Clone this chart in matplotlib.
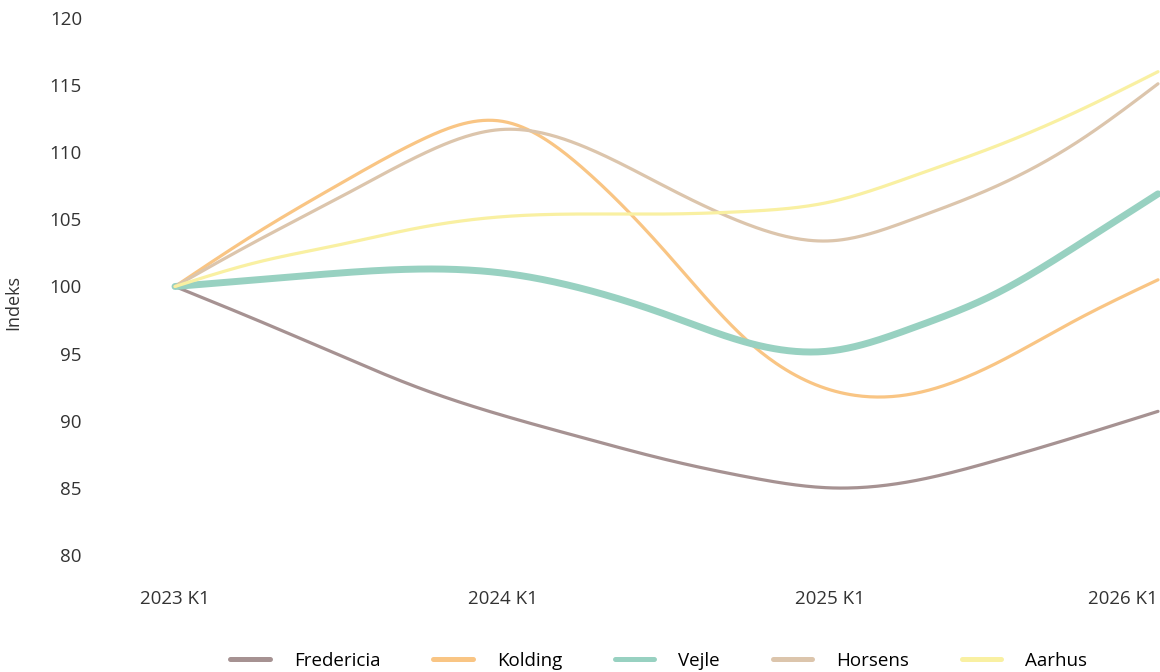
import matplotlib
matplotlib.use("Agg")
import matplotlib.pyplot as plt
import numpy as np
from matplotlib.lines import Line2D

plt.rcParams['font.family'] = ['Open Sans', 'DejaVu Sans']

# quarterly index values, 2023 K1 = 100
quarters = ['2023 K1', '2023 K2', '2023 K3', '2023 K4',
            '2024 K1', '2024 K2', '2024 K3', '2024 K4',
            '2025 K1', '2025 K2', '2025 K3', '2025 K4',
            '2026 K1']
fredericia = [100, 97.5, 94.9, 92.4, 90.4, 88.7, 87.1, 85.8, 85.0, 85.5, 87.0, 88.8, 90.7]
kolding = [100, 104.0, 107.6, 110.9, 112.3, 108.7, 102.5, 95.9, 92.3, 92.0, 94.2, 97.5, 100.5]
vejle = [100, 100.5, 101.0, 101.3, 101.0, 99.8, 97.9, 95.8, 95.2, 96.9, 99.4, 103.0, 106.9]
horsens = [100, 103.4, 106.6, 109.8, 111.7, 110.4, 107.4, 104.6, 103.4, 105.0, 107.4, 110.7, 115.1]
aarhus = [100, 101.8, 103.1, 104.4, 105.2, 105.4, 105.4, 105.6, 106.3, 108.2, 110.4, 113.0, 116.0]

series = [
    ('Fredericia', fredericia, '#a69292', 2.3),
    ('Kolding', kolding, '#f9c584', 2.3),
    ('Vejle', vejle, '#98d1c1', 5.0),
    ('Horsens', horsens, '#dcc5ac', 2.3),
    ('Aarhus', aarhus, '#f9f0a2', 2.3),
]
tick_idx = [0, 4, 8, 12]


def natural_spline(xs, ys, num=400):
    # natural cubic spline through the points, sampled densely
    xs = np.asarray(xs, float)
    ys = np.asarray(ys, float)
    n = len(xs)
    h = np.diff(xs)
    A = np.zeros((n, n))
    b = np.zeros(n)
    A[0, 0] = A[-1, -1] = 1
    for i in range(1, n - 1):
        A[i, i - 1] = h[i - 1]
        A[i, i] = 2 * (h[i - 1] + h[i])
        A[i, i + 1] = h[i]
        b[i] = 6 * ((ys[i + 1] - ys[i]) / h[i] - (ys[i] - ys[i - 1]) / h[i - 1])
    M = np.linalg.solve(A, b)
    xf = np.linspace(xs[0], xs[-1], num)
    k = np.clip(np.searchsorted(xs, xf) - 1, 0, n - 2)
    t0 = xs[k + 1] - xf
    t1 = xf - xs[k]
    hk = h[k]
    yf = (M[k] * t0 ** 3 + M[k + 1] * t1 ** 3) / (6 * hk) \
        + (ys[k] / hk - M[k] * hk / 6) * t0 + (ys[k + 1] / hk - M[k + 1] * hk / 6) * t1
    return xf, yf


fig = plt.figure(figsize=(11.6, 6.72), dpi=100)
ax = fig.add_axes([100 / 1160, 117 / 672, 1060 / 1160, 537 / 672])

xs = list(range(len(quarters)))
handles = []
for name, vals, color, lw in series:
    xf, yf = natural_spline(xs, vals)
    ax.plot(xf, yf, color=color, linewidth=lw, solid_capstyle='round',
            solid_joinstyle='round', clip_on=False)
    handles.append(Line2D([], [], color=color, linewidth=3.6,
                          solid_capstyle='round', label=name))

px = 12 / 983
ax.set_xlim(-75 * px, 12 + 2 * px)
ax.set_ylim(80, 120)
ax.set_yticks(range(80, 121, 5))
ax.set_xticks(tick_idx)
ax.set_xticklabels([quarters[i] for i in tick_idx])
ax.get_xticklabels()[-1].set_horizontalalignment('right')
ax.tick_params(axis='both', length=0, labelsize=13.5, colors='#333333')
ax.tick_params(axis='y', pad=13)
ax.tick_params(axis='x', pad=25)
for s in ax.spines.values():
    s.set_visible(False)

ax.set_ylabel('Indeks', fontsize=13, color='#333333')
ax.yaxis.set_label_coords(-78 / 1060, 0.47)

fig.legend(handles=handles, loc='lower center', ncol=5, frameon=False,
           fontsize=13.5, handlelength=2.1, handletextpad=1.3,
           columnspacing=2.8, bbox_to_anchor=(0.568, -0.022))

fig.savefig('out.png', dpi=100)
